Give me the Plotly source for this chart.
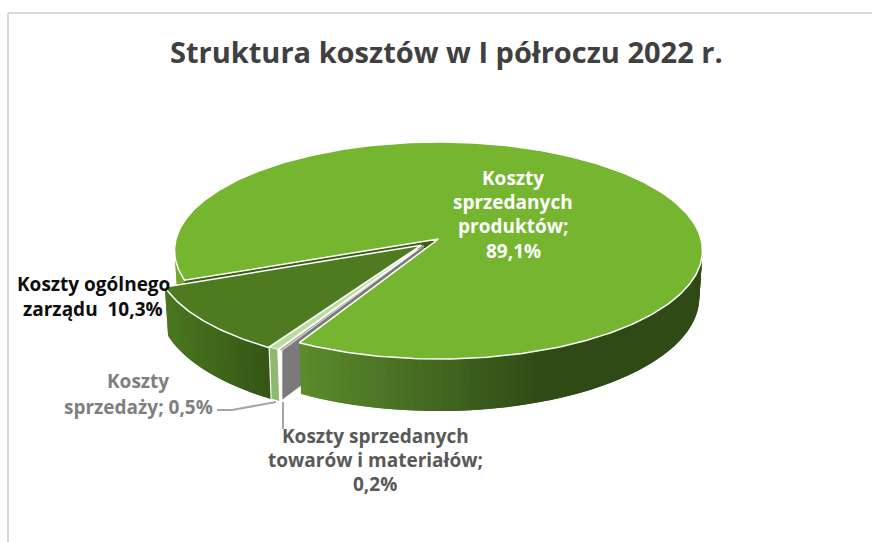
import math
import plotly.graph_objects as go

# ---- data ----
categories = ["Koszty sprzedanych produktów", "Koszty sprzedanych towarów i materiałów",
              "Koszty sprzedaży", "Koszty ogólnego zarządu"]
shares = [89.1, 0.2, 0.5, 10.3]
title_text = "Struktura kosztów w I półroczu 2022 r."

# ---- style ----
START = 248.3                      # first slice angle, clockwise from north
CX, CY, A, B, K, H = 438.5, 239, 262.5, 107.3, 0.106, 46.5
EXPLODE = [(0, 0), (-.055, -.06), (-.062, -.057), (-.066, -.058)]
TOP = ["#75b52f", "#a6a6a6", "#b9dd9f", "#4e7a20"]


def proj(u, v, down=False):
    w = 1 + K * v
    x, y = CX + A * u / w, CY - B * v / w
    if down:
        x, y = CX + (x - CX) * .988, y + H / w
    return x, y


def pts(a, off, r=1.0, down=False):
    t = math.radians(a)
    return proj(r * math.sin(t) + off[0], r * math.cos(t) + off[1], down)


def arc(a0, a1, off, down=False, n=120):
    return [pts(a0 + (a1 - a0) * i / n, off, down=down) for i in range(n + 1)]


def mix(c0, c1, t):
    t = max(0, min(1, t))
    p = [int(c0[i:i + 2], 16) for i in (1, 3, 5)]
    q = [int(c1[i:i + 2], 16) for i in (1, 3, 5)]
    return "#%02x%02x%02x" % tuple(round(a + (b - a) * t) for a, b in zip(p, q))


fig = go.Figure()


def poly(points, fill, line=None, lw=0.0):
    xs = [p[0] for p in points] + [points[0][0]]
    ys = [p[1] for p in points] + [points[0][1]]
    fig.add_trace(go.Scatter(x=xs, y=ys, mode="lines", fill="toself", fillcolor=fill,
                             line=dict(color=line or fill, width=lw),
                             hoverinfo="skip", showlegend=False))


def wall(a0, a1, off, c0, c1, x0, x1, bands=40):
    # each band runs on under the next one, so no seams show between them
    for i in range(bands):
        s = a0 + (a1 - a0) * i / bands
        e = a0 + (a1 - a0) * min(bands, i + 2) / bands
        top = arc(s, e, off, n=8)
        bot = arc(s, e, off, down=True, n=8)
        t = (top[0][0] - x0) / (x1 - x0)
        poly(top + bot[::-1], mix(c0, c1, t))


# slice angles from the shares
total = sum(shares)
bounds = [START]
for s in shares:
    bounds.append(bounds[-1] + s / total * 360)
main0, main1 = bounds[0], bounds[1]
gray0, gray1 = bounds[1], bounds[2]
lg0, lg1 = bounds[2], bounds[3]
dk0, dk1 = bounds[3], bounds[4]

# main slice: far-left piece of rim and start wall
wall(main0, main0 + 30, EXPLODE[0], "#6ea82c", "#6ea82c", 0, 1, bands=4)
o = pts(main0, EXPLODE[0])
poly([o, proj(0, 0), (CX, CY + 7), (o[0], o[1] + 7)], "#3c5c18")

# gray slice wall runs behind main slice
og = pts(gray0, EXPLODE[1])
ag = proj(*EXPLODE[1])
poly([ag, og, (og[0], og[1] + 49), (ag[0], ag[1] + 49)], "#7a7a7a")
poly([ag] + arc(gray0, gray1, EXPLODE[1], n=6), TOP[1], "#ffffff", 0.4)

# main slice front rim with gradient
wall(main1 - 360, 80, EXPLODE[0], "#5a8b2c", "#2f4a15", 298, 540, bands=70)
poly([proj(0, 0)] + arc(main0, main1, EXPLODE[0], n=360), TOP[0], "#ffffff", 1.5)

# light-green slice
top_lg = arc(lg0, lg1, EXPLODE[2], n=6)
bot_lg = arc(lg0, lg1, EXPLODE[2], down=True, n=6)
poly(top_lg + bot_lg[::-1], "#8fb870")
poly([proj(*EXPLODE[2])] + top_lg, TOP[2], "#ffffff", 0.6)

# dark slice
wall(dk0, dk1, EXPLODE[3], "#355615", "#4a7620", 268, 170, bands=30)
poly([proj(*EXPLODE[3])] + arc(dk0, dk1, EXPLODE[3], n=60), TOP[3], "#ffffff", 1.5)

# labels
LBL = [
    ("Koszty", 513, 178, "#ffffff"), ("sprzedanych", 513, 202, "#ffffff"),
    ("produktów;", 513, 226, "#ffffff"), (f"{shares[0]:.1f}%".replace(".", ","), 513, 251, "#ffffff"),
    ("Koszty ogólnego", 93, 284, "#0d0d0d"), (f"zarządu  {shares[3]:.1f}%".replace(".", ","), 93, 309, "#0d0d0d"),
    ("Koszty", 138, 381, "#7f7f7f"), (f"sprzedaży; {shares[2]:.1f}%".replace(".", ","), 138, 407, "#7f7f7f"),
    ("Koszty sprzedanych", 375, 436, "#595959"), ("towarów i materiałów;", 375, 460, "#595959"),
    (f"{shares[1]:.1f}%".replace(".", ","), 375, 484, "#595959"),
]
annotations = [dict(text=t.replace("  ", "&nbsp; "), x=x, y=y, xref="x", yref="y", showarrow=False,
                    xanchor="center", yanchor="middle",
                    font=dict(family="Open Sans", size=19, color=c, weight=700))
               for t, x, y, c in LBL]
annotations.append(dict(text=title_text, x=446.5, y=51, xref="x", yref="y", showarrow=False,
                        xanchor="center", yanchor="middle",
                        font=dict(family="Open Sans", size=29, color="#404040", weight=700)))

line = dict(color="#a6a6a6", width=2)
frame = dict(color="#d9d9d9", width=2)
shapes = [
    dict(type="line", x0=8, x1=8, y0=13, y1=542, xref="x", yref="y", line=frame),
    dict(type="line", x0=8, x1=872, y0=13, y1=13, xref="x", yref="y", line=frame),
    dict(type="path", path="M 217 410 L 232 410 L 276 402", xref="x", yref="y", line=line),
    dict(type="line", x0=283, x1=283, y0=402, y1=429, xref="x", yref="y", line=line),
]

fig.update_layout(
    width=872, height=542, margin=dict(l=0, r=0, t=0, b=0),
    paper_bgcolor="#ffffff", plot_bgcolor="#ffffff", showlegend=False,
    xaxis=dict(range=[0, 872], visible=False, fixedrange=True),
    yaxis=dict(range=[542, 0], visible=False, fixedrange=True),
    annotations=annotations, shapes=shapes,
)
fig.write_html("out.html", config={"displayModeBar": False},
               post_script="document.body.style.margin='0';document.documentElement.style.overflow='hidden';")
